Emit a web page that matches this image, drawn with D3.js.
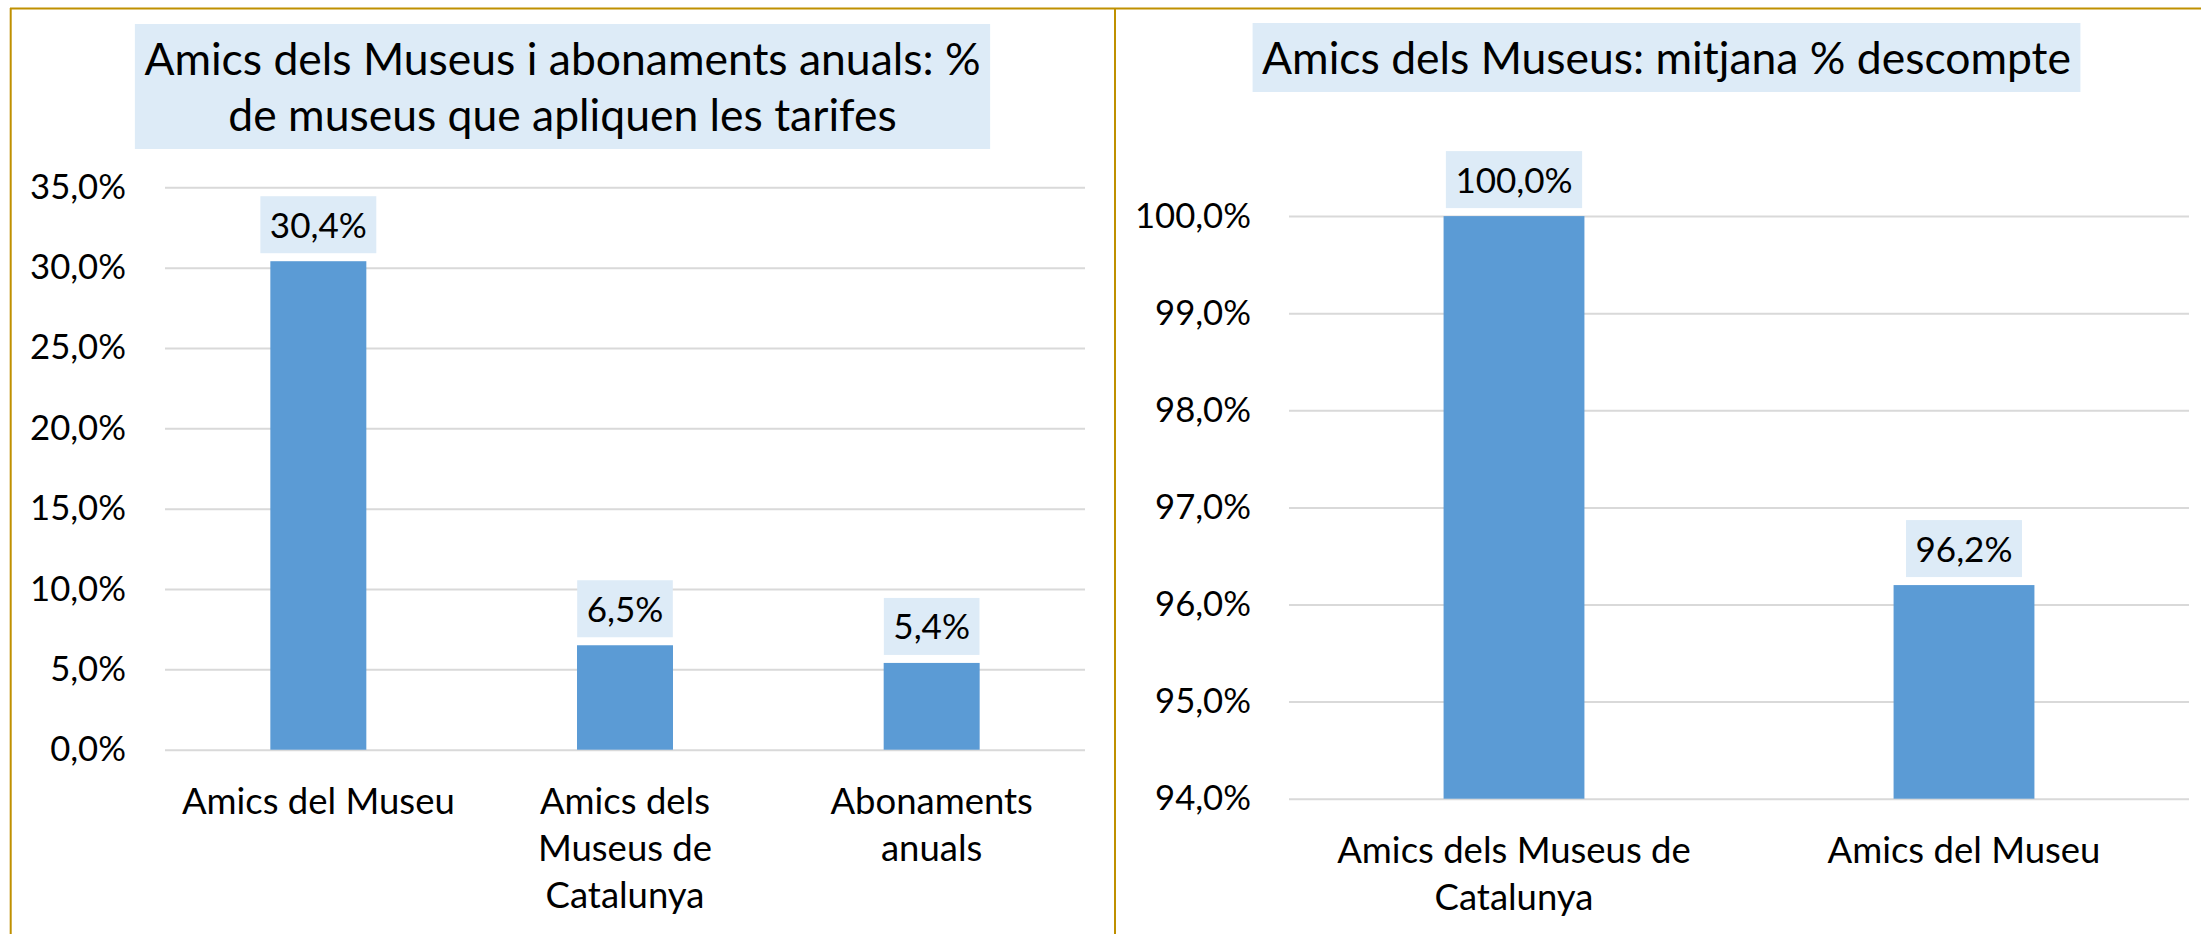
<!DOCTYPE html>
<html>
<head>
<meta charset="utf-8">
<script src="https://cdn.jsdelivr.net/npm/d3@7"></script>
<style>
  html, body { margin: 0; padding: 0; background: #ffffff; }
  svg { display: block; }
</style>
</head>
<body>
<svg id="chart" width="2201" height="934"></svg>
<script>
// ---------------- DATA ----------------
const leftTitle = ["Amics dels Museus i abonaments anuals: %", "de museus que apliquen les tarifes"];
const leftCategories = ["Amics del Museu", "Amics dels Museus de Catalunya", "Abonaments anuals"];
const leftCategoryLines = [["Amics del Museu"], ["Amics dels", "Museus de", "Catalunya"], ["Abonaments", "anuals"]];
const leftValues = [30.4, 6.5, 5.4];
const leftTicks = [0, 5, 10, 15, 20, 25, 30, 35];

const rightTitle = ["Amics dels Museus: mitjana % descompte"];
const rightCategories = ["Amics dels Museus de Catalunya", "Amics del Museu"];
const rightCategoryLines = [["Amics dels Museus de", "Catalunya"], ["Amics del Museu"]];
const rightValues = [100.0, 96.2];
const rightTicks = [94, 95, 96, 97, 98, 99, 100];

// ---------------- STYLE ----------------
const FONT = "Lato, 'Open Sans', sans-serif";
const BAR = "#5B9BD5";
const BOXFILL = "#DDEBF7";
const GRID = "#D9D9D9";
const BORDER = "#BF9000";

const svg = d3.select("#chart");
const locale = d3.formatLocale({decimal: ",", thousands: ".", grouping: [3], currency: ["", "€"]});
const fmt = v => locale.format(".1f")(v) + "%";

// measure helper to fit fallback font widths to the reference
const meas = svg.append("g").attr("visibility", "hidden");
function fit(text, target) {
  const t = meas.append("text").attr("font-family", FONT).attr("font-size", 100).text(text);
  const w = t.node().getComputedTextLength();
  t.remove();
  return 100 * target / w;
}
const titleSize = fit("Amics dels Museus: mitjana % descompte", 809);
const tickSize = fit("35,0%", 96);
const labelSize = fit("30,4%", 97);
const catSize = fit("Amics del Museu", 273);

// ---------------- BORDERS ----------------
svg.append("line").attr("x1", 10).attr("x2", 2201).attr("y1", 8.5).attr("y2", 8.5)
  .attr("stroke", BORDER).attr("stroke-width", 2);
svg.append("line").attr("x1", 10.7).attr("x2", 10.7).attr("y1", 8).attr("y2", 934)
  .attr("stroke", BORDER).attr("stroke-width", 2);
svg.append("line").attr("x1", 1115).attr("x2", 1115).attr("y1", 8).attr("y2", 934)
  .attr("stroke", BORDER).attr("stroke-width", 2);

function drawChart(cfg) {
  const g = svg.append("g");
  const x = d3.scaleBand().domain(cfg.categories).range(cfg.xRange)
    .paddingInner(0.687).paddingOuter(0.3435);
  const y = d3.scaleLinear().domain(cfg.yDomain).range(cfg.yRange);

  // title
  const tg = g.append("g");
  const tbox = tg.append("rect").attr("fill", BOXFILL);
  const tt = tg.selectAll("text.title").data(cfg.title).join("text")
    .attr("class", "title")
    .attr("x", cfg.titleCx)
    .attr("y", (d, i) => cfg.titleBaseline + i * 56)
    .attr("text-anchor", "middle")
    .attr("font-family", FONT).attr("font-size", titleSize).attr("fill", "#000")
    .text(d => d);
  let maxW = 0;
  tt.each(function() { maxW = Math.max(maxW, this.getComputedTextLength()); });
  const lastBase = cfg.titleBaseline + (cfg.title.length - 1) * 56;
  tbox.attr("x", cfg.titleCx - maxW / 2 - 9.5).attr("width", maxW + 19)
    .attr("y", cfg.titleBaseline - 51).attr("height", lastBase + 18 - (cfg.titleBaseline - 51));

  // gridlines via axis
  const axis = d3.axisLeft(y).tickValues(cfg.ticks).tickFormat(fmt)
    .tickSize(-(cfg.xRange[1] - cfg.xRange[0])).tickPadding(0);
  const ag = g.append("g").attr("transform", `translate(${cfg.xRange[0]},0)`).call(axis);
  ag.select(".domain").remove();
  ag.selectAll(".tick line").attr("stroke", GRID).attr("stroke-width", 2);
  ag.selectAll(".tick text")
    .attr("x", cfg.tickRight - cfg.xRange[0])
    .attr("dy", null).attr("y", 11)
    .attr("text-anchor", "end")
    .attr("font-family", FONT).attr("font-size", tickSize).attr("fill", "#000");

  // bars
  const data = cfg.categories.map((c, i) => ({c, v: cfg.values[i], lines: cfg.lines[i]}));
  g.selectAll("rect.bar").data(data).join("rect")
    .attr("class", "bar")
    .attr("x", d => x(d.c)).attr("width", x.bandwidth())
    .attr("y", d => y(d.v)).attr("height", d => y(cfg.yDomain[0]) - y(d.v))
    .attr("fill", BAR);

  // data labels
  const lg = g.selectAll("g.lab").data(data).join("g").attr("class", "lab");
  const lbox = lg.append("rect").attr("fill", BOXFILL);
  const ltxt = lg.append("text")
    .attr("x", d => x(d.c) + x.bandwidth() / 2)
    .attr("y", d => y(d.v) - 8 - 15.5)
    .attr("text-anchor", "middle")
    .attr("font-family", FONT).attr("font-size", labelSize).attr("fill", "#000")
    .text(d => fmt(d.v));
  lg.each(function(d) {
    const w = d3.select(this).select("text").node().getComputedTextLength();
    d3.select(this).select("rect")
      .attr("x", x(d.c) + x.bandwidth() / 2 - w / 2 - 9.5).attr("width", w + 19)
      .attr("y", y(d.v) - 8 - 57).attr("height", 57);
  });

  // category labels
  const base = y(cfg.yDomain[0]) + 64;
  const cg = g.selectAll("text.cat").data(data).join("text")
    .attr("class", "cat")
    .attr("text-anchor", "middle")
    .attr("font-family", FONT).attr("font-size", catSize).attr("fill", "#000");
  cg.selectAll("tspan").data(d => d.lines.map(l => ({l, cx: x(d.c) + x.bandwidth() / 2}))).join("tspan")
    .attr("x", d => d.cx)
    .attr("y", (d, i) => base + i * 47)
    .text(d => d.l);
}

drawChart({
  title: leftTitle, titleCx: 562.5, titleBaseline: 75,
  categories: leftCategories, lines: leftCategoryLines, values: leftValues, ticks: leftTicks,
  xRange: [165, 1085], yDomain: [0, 35], yRange: [749.7, 187.3], tickRight: 126
});
drawChart({
  title: rightTitle, titleCx: 1666.5, titleBaseline: 74,
  categories: rightCategories, lines: rightCategoryLines, values: rightValues, ticks: rightTicks,
  xRange: [1289, 2189], yDomain: [94, 100], yRange: [798.7, 216.1], tickRight: 1251
});
</script>
</body>
</html>
